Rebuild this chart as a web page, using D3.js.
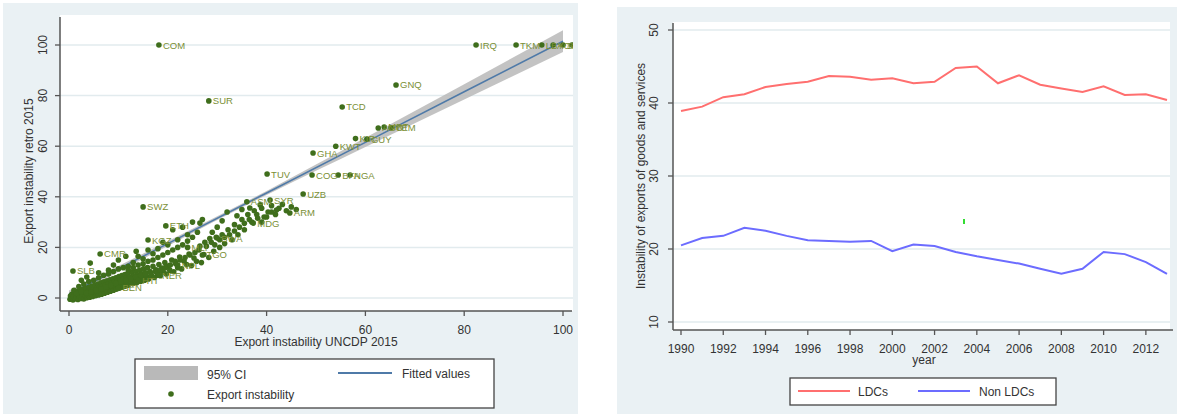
<!DOCTYPE html>
<html>
<head>
<meta charset="utf-8">
<script src="https://d3js.org/d3.v7.min.js"></script>
<title>Export instability</title>
<style>
body { margin: 0; background: #fff; }
text { font-family: "Liberation Sans", Arial, sans-serif; }
</style>
</head>
<body>
<script>

// ---- left panel data ----
var labelled = [
  [18.2,100,"COM"],[28.3,77.9,"SUR"],[66.2,84.2,"GNQ"],[55.3,75.5,"TCD"],
  [82.4,100,"IRQ"],[90.5,100,"TKM"],[95.7,100,"LBY"],[98,100,"AGO"],[100,100,"SSD"],[101.8,100,"YEM"],
  [62.6,67.2,"AGO"],[63.8,67.6,"MRT"],[65.2,67.3,"YEM"],[58,63,"KIR"],[60.3,62.8,"GUY"],
  [54,60,"KWT"],[49.4,57.3,"GHA"],[49.2,48.6,"COG"],[54.5,48.6,"BFA"],[56.9,48.6,"NGA"],
  [47.4,41.1,"UZB"],[40.1,49,"TUV"],[15,36,"SWZ"],[6.3,17.4,"CMR"],[16,22.9,"KGZ"],
  [19.6,28.5,"ETH"],[30,23.7,"BWA"],[44.7,33.6,"ARM"],[37.3,29.6,"MDG"],[40.7,38.7,"SYR"],
  [36,38,"ASM"],[0.8,10.7,"SLB"],[24,20,"MLI"],[27,17,"TGO"],[22,13,"NPL"],[18,9,"NER"],[14,7,"HTI"],[10,4,"BEN"]
];

var others = [
  [0.2,-0.5],[0.3,0.8],[0.5,0.1],[0.6,1.5],[0.8,-0.8],[0.9,0.6],[1.1,2.2],[1.2,-0.3],[1.4,1.1],[1.5,0.2],
  [1.7,2.6],[1.8,-0.6],[2.0,1.4],[2.1,0.4],[2.3,3.0],[2.4,-0.2],[2.6,1.8],[2.7,0.7],[2.9,3.4],[3.0,-0.4],
  [3.2,2.2],[3.3,1.0],[3.5,3.8],[3.6,0.1],[3.8,2.6],[3.9,1.3],[4.1,4.3],[4.2,0.3],[4.4,3.0],[4.5,1.6],
  [4.7,4.7],[4.8,0.6],[5.0,3.4],[5.1,2.0],[5.3,5.1],[5.4,0.9],[5.6,3.8],[5.7,2.4],[5.9,5.5],[6.0,1.2],
  [6.2,4.2],[6.3,2.8],[6.5,6.0],[6.6,1.5],[6.8,4.6],[6.9,3.2],[7.1,6.4],[7.2,1.9],[7.4,5.0],[7.5,3.5],
  [7.7,6.8],[7.8,2.3],[8.0,5.4],[8.1,3.9],[8.3,7.2],[8.4,2.7],[8.6,5.8],[8.7,4.3],[8.9,7.6],[9.0,3.1],
  [9.2,6.2],[9.3,4.7],[9.5,8.0],[9.6,3.5],[9.8,6.6],[9.9,5.1],[10.1,8.5],[10.2,3.9],[10.4,7.0],[10.5,5.5],
  [10.7,8.9],[10.8,4.3],[11.0,7.4],[11.1,5.9],[11.3,9.3],[11.4,4.7],[11.6,7.8],[11.7,6.3],[11.9,9.7],[12.0,5.1],
  [12.3,8.2],[12.5,6.7],[12.7,10.2],[12.9,5.6],[13.1,8.7],[13.3,7.1],[13.5,10.6],[13.7,6.0],[13.9,9.1],[14.1,7.6],
  [14.3,11.0],[14.5,6.5],[14.7,9.6],[14.9,8.0],[15.1,11.5],[15.3,7.0],[15.5,10.0],[15.7,8.5],[15.9,12.0],[16.1,7.5],
  [16.4,10.5],[16.7,9.0],[17.0,12.5],[17.3,8.1],[17.6,11.1],[17.9,9.6],[18.2,13.2],[18.5,8.8],[18.8,11.8],[19.1,10.3],
  [19.4,14.0],[19.7,9.5],[20.0,12.6],[20.4,11.0],[20.8,15.0],[21.2,10.4],[21.6,13.5],[22.0,12.0],[22.4,16.2],[22.8,11.5],
  [23.3,14.6],[23.8,13.2],[24.3,17.4],[24.8,12.8],[25.3,15.8],[25.8,14.5],[26.3,19.0],[26.8,14.0],[27.3,17.2],[27.8,20.5],
  [28.3,16.0],[28.8,22.0],[29.3,18.5],[29.8,24.0],[30.5,20.0],[31.0,25.0],[31.5,21.5],[32.2,27.0],[33.0,23.0],[33.5,29.0],
  [34.2,25.0],[35.0,31.0],[35.5,27.0],[36.2,33.0],[37.0,30.0],[37.5,34.5],[38.2,31.5],[39.0,35.5],[39.5,32.0],[40.3,34.0],
  [41.0,36.5],[41.8,33.0],[42.5,35.5],[43.2,37.0],[44.0,34.5],[45.0,36.0],[46.0,35.0],
  [4.3,13.8],[3.6,8.3],[2.5,7.0],[8.0,11.0],[10.0,15.0],[11.5,16.5],[13.6,18.5],[12.0,12.5],[13.0,14.0],[15.0,15.5],
  [17.0,17.5],[18.0,19.5],[20.0,21.0],[21.0,27.0],[22.0,23.0],[23.0,28.0],[24.0,25.0],[25.0,30.0],[26.0,26.0],[27.0,31.0],
  [26.5,29.6],[36.6,35.6],[38.7,36.8],[42.0,34.8],[32.0,34.0],[34.0,32.5],[35.0,35.0],[30.0,28.0],[29.0,26.0],[31.0,30.5],
  [1.0,3.0],[2.0,4.5],[3.0,5.5],[4.0,6.5],[5.0,7.0],[6.0,8.0],[7.0,9.0],[8.0,9.5],[9.0,10.5],[10.0,11.5],
  [11.0,12.0],[12.0,11.0],[13.0,12.0],[14.0,13.0],[15.0,13.5],[16.0,14.5],[17.0,15.0],[18.0,16.0],[19.0,17.0],[20.0,18.0],
  [21.0,19.0],[22.0,20.0],[23.0,21.0],[24.0,22.5],[1.5,1.8],[2.5,2.5],[3.5,2.0],[4.5,2.4],[5.5,3.0],[6.5,3.6],
  [7.5,4.3],[8.5,5.0],[9.5,5.8],[10.5,6.5],[11.5,7.0],[12.5,7.6],[13.5,8.4],[14.5,8.9],[15.5,9.5],[16.5,10.0],
  [17.5,10.5],[18.5,11.0],[19.5,12.0],[20.5,13.0],[21.5,14.5],[22.5,15.0],[23.5,16.0],[24.5,17.0],[25.5,18.0],[26.5,20.5],
  [27.5,22.0],[28.5,23.5],[29.5,21.0],[30.5,23.0],[31.5,24.0],[32.5,25.0],[33.5,26.5],[34.5,28.0],[35.5,29.5],[36.5,31.0],
  [38.0,33.0],[39.0,30.0],[40.0,32.0],[41.0,34.0],[6.0,10.0],[9.0,13.0],[14.0,16.5],[16.0,19.0],[19.0,22.0],[25.0,24.0]
];

// fitted values and 95% CI half-width
var fitX = [0, 20, 40, 60, 80, 100];
var fitY = [1.5, 21.5, 41.5, 61.5, 81.5, 101.5];
var ciHalf = [1.5, 0.9, 0.8, 1.8, 3.0, 4.3];

var xTicksL = [0, 20, 40, 60, 80, 100];
var yTicksL = [0, 20, 40, 60, 80, 100];

// ---- right panel data ----
var years = [1990,1991,1992,1993,1994,1995,1996,1997,1998,1999,2000,2001,2002,2003,2004,2005,2006,2007,2008,2009,2010,2011,2012,2013];
var ldcs = [38.9,39.5,40.8,41.2,42.2,42.6,42.9,43.7,43.6,43.2,43.4,42.7,42.9,44.8,45.0,42.7,43.8,42.5,42.0,41.5,42.3,41.1,41.2,40.4];
var nonLdcs = [20.5,21.5,21.8,22.9,22.5,21.8,21.2,21.1,21.0,21.1,19.7,20.6,20.4,19.6,19.0,18.5,18.0,17.3,16.6,17.3,19.6,19.3,18.2,16.6];
var xTicksR = [1990,1992,1994,1996,1998,2000,2002,2004,2006,2008,2010,2012];
var yTicksR = [10, 20, 30, 40, 50];

var width = 1177, height = 414;
var bg = "#eaf1f4", grid = "#e2ebee", axisCol = "#555";
var green = "#3f6e1c", labelGreen = "#7a8f35";

var svg = d3.select("body").append("svg")
  .attr("width", width)
  .attr("height", height);

// ===== left panel =====
svg.append("rect").attr("x", 3).attr("y", 3).attr("width", 575).attr("height", 411).attr("fill", bg);
svg.append("rect").attr("x", 60).attr("y", 15).attr("width", 513).attr("height", 296).attr("fill", "#fff");

var xL = d3.scaleLinear().domain([0, 100]).range([69, 563]);
var yL = d3.scaleLinear().domain([0, 100]).range([298, 45]);

svg.append("defs").append("clipPath").attr("id", "clipL")
  .append("rect").attr("x", 60).attr("y", 15).attr("width", 513).attr("height", 296);

var gL = svg.append("g");

gL.selectAll(".gridL").data(yTicksL).enter().append("line")
  .attr("x1", 60).attr("x2", 573)
  .attr("y1", function(d) { return yL(d); }).attr("y2", function(d) { return yL(d); })
  .attr("stroke", grid).attr("stroke-width", 1.5);

var plotL = gL.append("g").attr("clip-path", "url(#clipL)");

var band = fitX.map(function(x, i) { return { x: x, lo: fitY[i] - ciHalf[i], hi: fitY[i] + ciHalf[i] }; });
plotL.append("path").datum(band)
  .attr("fill", "#b9b9b9").attr("opacity", 0.85)
  .attr("d", d3.area().curve(d3.curveMonotoneX)
    .x(function(d) { return xL(d.x); })
    .y0(function(d) { return yL(d.lo); })
    .y1(function(d) { return yL(d.hi); }));

plotL.append("path").datum(fitX.map(function(x, i) { return [x, fitY[i]]; }))
  .attr("fill", "none").attr("stroke", "#4f7aa8").attr("stroke-width", 1.6)
  .attr("d", d3.line().x(function(d) { return xL(d[0]); }).y(function(d) { return yL(d[1]); }));

plotL.selectAll(".pt").data(others.concat(labelled)).enter().append("circle")
  .attr("cx", function(d) { return xL(d[0]); })
  .attr("cy", function(d) { return yL(d[1]); })
  .attr("r", 2.8).attr("fill", green);

plotL.selectAll(".lab").data(labelled).enter().append("text")
  .attr("x", function(d) { return xL(d[0]) + 4; })
  .attr("y", function(d) { return yL(d[1]) + 3.5; })
  .attr("font-size", 9.5).attr("fill", labelGreen)
  .text(function(d) { return d[2]; });

// axes
gL.append("line").attr("x1", 60).attr("x2", 60).attr("y1", 17).attr("y2", 311).attr("stroke", axisCol).attr("stroke-width", 1.5);
gL.append("line").attr("x1", 60).attr("x2", 572).attr("y1", 311).attr("y2", 311).attr("stroke", axisCol).attr("stroke-width", 1.5);

gL.selectAll(".ytL").data(yTicksL).enter().append("line")
  .attr("x1", 55).attr("x2", 60)
  .attr("y1", function(d) { return yL(d); }).attr("y2", function(d) { return yL(d); })
  .attr("stroke", axisCol).attr("stroke-width", 1.3);
gL.selectAll(".ylL").data(yTicksL).enter().append("text")
  .attr("transform", function(d) { return "translate(47," + yL(d) + ") rotate(-90)"; })
  .attr("text-anchor", "middle").attr("font-size", 12).attr("fill", "#333")
  .text(function(d) { return d; });

gL.selectAll(".xtL").data(xTicksL).enter().append("line")
  .attr("x1", function(d) { return xL(d); }).attr("x2", function(d) { return xL(d); })
  .attr("y1", 311).attr("y2", 316)
  .attr("stroke", axisCol).attr("stroke-width", 1.3);
gL.selectAll(".xlL").data(xTicksL).enter().append("text")
  .attr("x", function(d) { return xL(d); }).attr("y", 334)
  .attr("text-anchor", "middle").attr("font-size", 12).attr("fill", "#333")
  .text(function(d) { return d; });

gL.append("text").attr("x", 316).attr("y", 346).attr("text-anchor", "middle")
  .attr("font-size", 12).attr("fill", "#333").text("Export instability UNCDP 2015");
gL.append("text").attr("transform", "translate(33,171) rotate(-90)").attr("text-anchor", "middle")
  .attr("font-size", 12).attr("fill", "#333").text("Export instability retro 2015");

// legend
var legL = gL.append("g");
legL.append("rect").attr("x", 135).attr("y", 359).attr("width", 359).attr("height", 49)
  .attr("fill", "#fff").attr("stroke", "#444").attr("stroke-width", 1.3);
legL.append("rect").attr("x", 144).attr("y", 366).attr("width", 54).attr("height", 14).attr("fill", "#b9b9b9");
legL.append("text").attr("x", 207).attr("y", 379).attr("font-size", 12).attr("fill", "#333").text("95% CI");
legL.append("circle").attr("cx", 171).attr("cy", 394).attr("r", 2.8).attr("fill", green);
legL.append("text").attr("x", 207).attr("y", 399).attr("font-size", 12).attr("fill", "#333").text("Export instability");
legL.append("line").attr("x1", 338).attr("x2", 392).attr("y1", 373).attr("y2", 373).attr("stroke", "#4f7aa8").attr("stroke-width", 1.8);
legL.append("text").attr("x", 402).attr("y", 378).attr("font-size", 12).attr("fill", "#333").text("Fitted values");

// ===== right panel =====
svg.append("rect").attr("x", 617).attr("y", 7).attr("width", 560).attr("height", 407).attr("fill", bg);
svg.append("rect").attr("x", 673).attr("y", 22).attr("width", 497).attr("height", 308).attr("fill", "#fff");

var xR = d3.scaleLinear().domain([1990, 2013]).range([681, 1167]);
var yR = d3.scaleLinear().domain([10, 50]).range([322, 30]);

var gR = svg.append("g");

gR.selectAll(".gridR").data(yTicksR).enter().append("line")
  .attr("x1", 673).attr("x2", 1170)
  .attr("y1", function(d) { return yR(d); }).attr("y2", function(d) { return yR(d); })
  .attr("stroke", grid).attr("stroke-width", 1.5);

var lineR = d3.line()
  .x(function(d, i) { return xR(years[i]); })
  .y(function(d) { return yR(d); });

gR.append("path").datum(ldcs).attr("fill", "none").attr("stroke", "#ff6f6f").attr("stroke-width", 2).attr("d", lineR);
gR.append("path").datum(nonLdcs).attr("fill", "none").attr("stroke", "#6c6cff").attr("stroke-width", 2).attr("d", lineR);

// stray mark in the original image
gR.append("rect").attr("x", 963).attr("y", 219).attr("width", 2).attr("height", 5).attr("fill", "#33dd33");

gR.append("line").attr("x1", 673).attr("x2", 673).attr("y1", 23).attr("y2", 330).attr("stroke", axisCol).attr("stroke-width", 1.5);
gR.append("line").attr("x1", 673).attr("x2", 1173).attr("y1", 330).attr("y2", 330).attr("stroke", axisCol).attr("stroke-width", 1.5);

gR.selectAll(".ytR").data(yTicksR).enter().append("line")
  .attr("x1", 668).attr("x2", 673)
  .attr("y1", function(d) { return yR(d); }).attr("y2", function(d) { return yR(d); })
  .attr("stroke", axisCol).attr("stroke-width", 1.3);
gR.selectAll(".ylR").data(yTicksR).enter().append("text")
  .attr("transform", function(d) { return "translate(658," + yR(d) + ") rotate(-90)"; })
  .attr("text-anchor", "middle").attr("font-size", 12).attr("fill", "#333")
  .text(function(d) { return d; });

gR.selectAll(".xtR").data(xTicksR).enter().append("line")
  .attr("x1", function(d) { return xR(d); }).attr("x2", function(d) { return xR(d); })
  .attr("y1", 330).attr("y2", 335)
  .attr("stroke", axisCol).attr("stroke-width", 1.3);
gR.selectAll(".xlR").data(xTicksR).enter().append("text")
  .attr("x", function(d) { return xR(d); }).attr("y", 353)
  .attr("text-anchor", "middle").attr("font-size", 12).attr("fill", "#333")
  .text(function(d) { return d; });

gR.append("text").attr("x", 924).attr("y", 364).attr("text-anchor", "middle")
  .attr("font-size", 12).attr("fill", "#333").text("year");
gR.append("text").attr("transform", "translate(645,176) rotate(-90)").attr("text-anchor", "middle")
  .attr("font-size", 12).attr("fill", "#333").text("Instability of exports of goods and services");

var legR = gR.append("g");
legR.append("rect").attr("x", 790).attr("y", 378).attr("width", 266).attr("height", 27)
  .attr("fill", "#fff").attr("stroke", "#444").attr("stroke-width", 1.3);
legR.append("line").attr("x1", 798).attr("x2", 850).attr("y1", 391).attr("y2", 391).attr("stroke", "#ff6f6f").attr("stroke-width", 2);
legR.append("text").attr("x", 858).attr("y", 396).attr("font-size", 12).attr("fill", "#333").text("LDCs");
legR.append("line").attr("x1", 918).attr("x2", 970).attr("y1", 391).attr("y2", 391).attr("stroke", "#6c6cff").attr("stroke-width", 2);
legR.append("text").attr("x", 979).attr("y", 396).attr("font-size", 12).attr("fill", "#333").text("Non LDCs");

</script>
</body>
</html>
